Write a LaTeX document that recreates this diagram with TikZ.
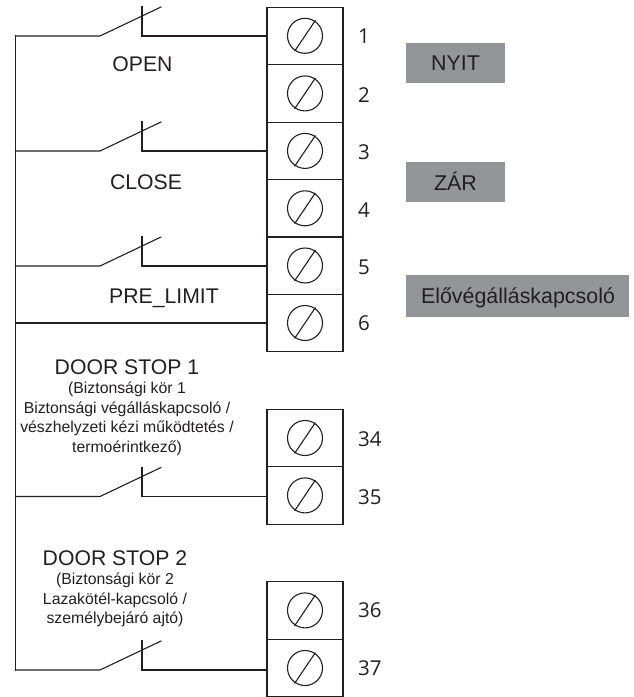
\documentclass[tikz,border=0pt]{standalone}
\usepackage{fontspec}
\setmainfont{Liberation Sans}
\newfontfamily\numfont{Open Sans}
\usetikzlibrary{%
    calc,
    positioning
}
\definecolor{inkgray}{HTML}{231F20}
\definecolor{tagfill}{HTML}{939598}
\tikzset{%
    wire/.style={draw=inkgray, line width=1.1pt, line cap=rect},
    terminal/.style={draw=inkgray, line width=1.1pt, minimum width=76pt, minimum height=57.5pt, inner sep=0pt},
    screw/.style={draw=inkgray, line width=1.1pt, circle, minimum size=35pt, inner sep=0pt},
    bigtext/.style={text=inkgray, align=center, font=\fontsize{21.2}{25}\selectfont},
    smalltext/.style={text=inkgray, align=center, font=\fontsize{15.8}{19.5}\selectfont},
    numtext/.style={text=inkgray, anchor=west, inner sep=0pt, font=\numfont\fontsize{20.5}{24}\selectfont},
    tagtext/.style={text=inkgray, inner sep=0pt, anchor=base, font=\fontsize{21.4}{25}\selectfont},
    tagbox/.style={fill=tagfill, inner sep=0pt}
}
\begin{document}
\begin{tikzpicture}[x=1pt, y=-1pt]
    \useasboundingbox (0,0) rectangle (634,697);

    % terminals
    \foreach \Node/\Y/\Ynum in {%
        1/35.8/36, 2/93.4/95, 3/150.9/152, 4/208.3/210, 5/265.5/267, 6/323/323,%
        34/438/439, 35/495.4/497, 36/610.4/610, 37/668/668%
        } {
        \node[terminal] (term\Node) at (305,\Y) {};
        \node[screw] (screw\Node) at (305,\Y) {};
        \draw[wire] (screw\Node.236) -- (screw\Node.56);
        \node[numtext] (num\Node) at (358,\Ynum) {\Node};
    }

    % switches
    \foreach \Node/\Y in {1/36, 3/151, 5/266, 35/496.5, 37/670} {
        \coordinate (in\Node) at (15.5,\Y);
        \coordinate (pivot\Node) at (100,\Y);
        \coordinate (tip\Node) at (161,\Y-29);
        \coordinate (stud\Node) at (142,\Y-29);
        \coordinate (seat\Node) at (142,\Y);
        \draw[wire] (in\Node) -- (pivot\Node) -- (tip\Node);
        \draw[wire] (stud\Node) -- (seat\Node) -- (seat\Node -| term\Node.west);
    }
    \draw[wire] (in1) -- (in37);
    \draw[wire] (in1 |- term6.west) -- (term6.west);

    \node[bigtext] (openlabel) at (142.5,64) {OPEN};
    \node[bigtext] (closelabel) at (146,182) {CLOSE};
    \node[bigtext] (prelabel) at (164,298) {PRE\_LIMIT};
    \node[bigtext] (stoplabela) at (127,367) {DOOR STOP 1};
    \node[smalltext, below=0.5pt of stoplabela] (stopnotea) {%
        (Biztonsági kör 1\\
        Biztonsági végálláskapcsoló /\\
        vészhelyzeti kézi működtetés /\\
        termoérintkező)};
    \node[bigtext] (stoplabelb) at (115,558) {DOOR STOP 2};
    \node[smalltext, below=0.5pt of stoplabelb] (stopnoteb) {%
        (Biztonsági kör 2\\
        Lazakötél-kapcsoló /\\
        személybejáró ajtó)};

    % colour tags
    \node[tagbox, minimum width=99pt, minimum height=40pt] (tagopen) at (455.5,63) {};
    \node[tagbox, minimum width=99pt, minimum height=40pt] (tagclose) at (455.5,182) {};
    \node[tagbox, minimum width=223pt, minimum height=42pt] (tagpre) at (517.5,296) {};
    \node[tagtext] (textopen) at (455.5,70.5) {NYIT};
    \node[tagtext] (textclose) at (455.5,190) {ZÁR};
    \node[tagtext] (textpre) at (518,303) {Elővégálláskapcsoló};
\end{tikzpicture}
\end{document}
